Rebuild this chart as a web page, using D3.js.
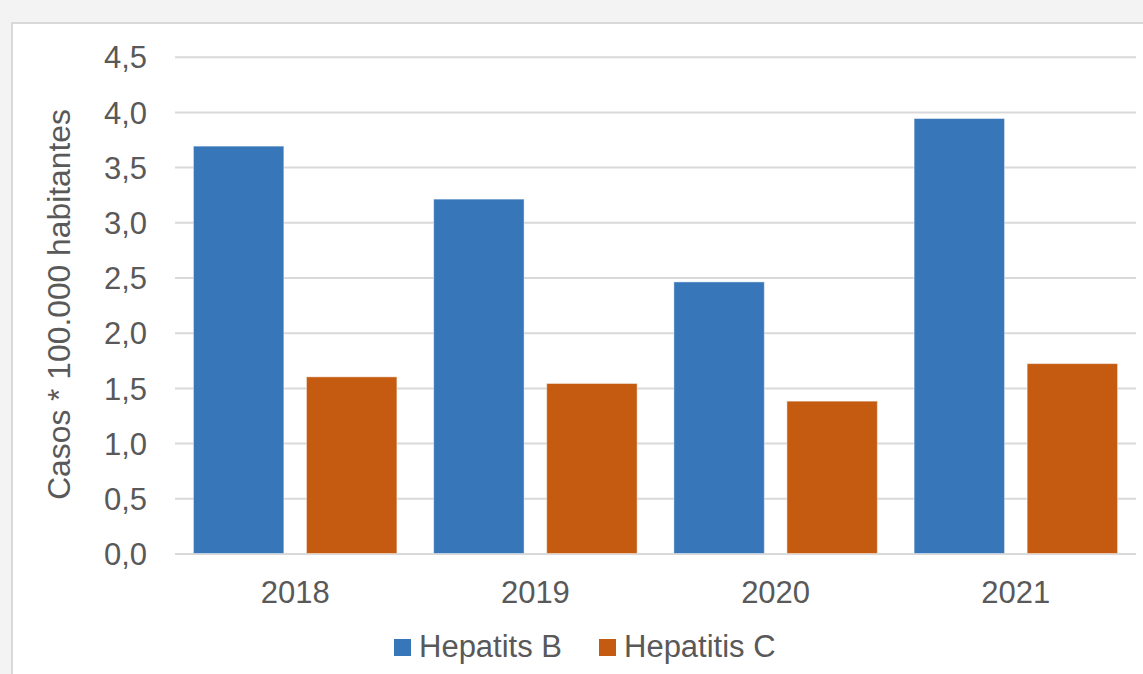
<!DOCTYPE html>
<html>
<head>
<meta charset="utf-8">
<script src="https://cdn.jsdelivr.net/npm/d3@7"></script>
<style>
  body { margin: 0; background: #f3f3f3; }
  text { font-family: "Liberation Sans", Arial, sans-serif; fill: #595959; }
</style>
</head>
<body>
<div id="chart"></div>
<script>
// data
var years = ["2018", "2019", "2020", "2021"];
var seriesNames = ["Hepatits B", "Hepatitis C"];
var hepatitisB = [3.69, 3.21, 2.46, 3.94];
var hepatitisC = [1.60, 1.54, 1.38, 1.72];
var yTicks = [0, 0.5, 1, 1.5, 2, 2.5, 3, 3.5, 4, 4.5];
var colors = ["#3776b8", "#c55a11"];
var yTitle = "Casos * 100.000 habitantes";

var svgWidth = 1143;
var svgHeight = 674;

var margin = { top: 56.7, right: 7, bottom: 120.5, left: 175 };
var width = svgWidth - margin.left - margin.right;
var height = svgHeight - margin.top - margin.bottom;

var svg = d3.select("#chart")
  .append("svg")
  .attr("width", svgWidth)
  .attr("height", svgHeight);

// grey backdrop + white chart box
svg.append("rect")
  .attr("width", svgWidth)
  .attr("height", svgHeight)
  .attr("fill", "#f3f3f3");
svg.append("rect")
  .attr("x", 12)
  .attr("y", 23)
  .attr("width", svgWidth)
  .attr("height", svgHeight)
  .attr("fill", "#fff")
  .attr("stroke", "#d9d9d9")
  .attr("stroke-width", 2);

var chartGroup = svg.append("g")
  .attr("transform", `translate(${margin.left}, ${margin.top})`);

// scales
var x0 = d3.scaleBand()
  .domain(years)
  .range([0, width])
  .paddingInner(0.153)
  .paddingOuter(0.0767);

var x1 = d3.scaleBand()
  .domain(seriesNames)
  .range([0, x0.bandwidth()])
  .paddingInner(0.2);

var y = d3.scaleLinear()
  .domain([0, 4.5])
  .range([height, 0]);

var fmt = d3.format(".1f");

// gridlines
var leftAxis = d3.axisLeft(y)
  .tickValues(yTicks)
  .tickSize(-width)
  .tickPadding(28)
  .tickFormat(d => fmt(d).replace(".", ","));

var yAxis = chartGroup.append("g")
  .call(leftAxis);
yAxis.select(".domain").remove();
yAxis.selectAll(".tick line")
  .attr("stroke", "#d9d9d9")
  .attr("stroke-width", 2);
yAxis.selectAll(".tick text")
  .attr("dy", "0.36em")
  .style("font-size", "31px")
  .style("fill", "#595959");

// bars
var data = years.map((yr, i) => ({ year: yr, values: [hepatitisB[i], hepatitisC[i]] }));

var groups = chartGroup.selectAll(".year")
  .data(data)
  .enter()
  .append("g")
  .attr("transform", d => `translate(${x0(d.year)}, 0)`);

groups.selectAll("rect")
  .data(d => d.values.map((v, j) => ({ name: seriesNames[j], value: v, color: colors[j] })))
  .enter()
  .append("rect")
  .attr("x", d => x1(d.name))
  .attr("width", x1.bandwidth())
  .attr("y", d => y(d.value))
  .attr("height", d => height - y(d.value))
  .attr("fill", d => d.color)
  .attr("stroke", "#fff")
  .attr("stroke-opacity", 0.45)
  .attr("stroke-width", 1);

// x axis labels
var bottomAxis = d3.axisBottom(x0)
  .tickSize(0)
  .tickPadding(27);

var xAxis = chartGroup.append("g")
  .attr("transform", `translate(0, ${height})`)
  .call(bottomAxis);
xAxis.select(".domain").remove();
xAxis.selectAll(".tick text")
  .attr("dy", "0.71em")
  .style("font-size", "31px")
  .style("fill", "#595959");

// y axis title
svg.append("text")
  .attr("transform", "rotate(-90)")
  .attr("x", -304.5)
  .attr("y", 70)
  .attr("text-anchor", "middle")
  .style("font-size", "31.8px")
  .text(yTitle);

// legend
var legendX = [394, 599];
var legend = svg.append("g");
seriesNames.forEach(function(name, i) {
  legend.append("rect")
    .attr("x", legendX[i])
    .attr("y", 639)
    .attr("width", 17)
    .attr("height", 17)
    .attr("fill", colors[i]);
  legend.append("text")
    .attr("x", legendX[i] + 25)
    .attr("y", 656.5)
    .style("font-size", "31px")
    .text(name);
});
</script>
</body>
</html>
